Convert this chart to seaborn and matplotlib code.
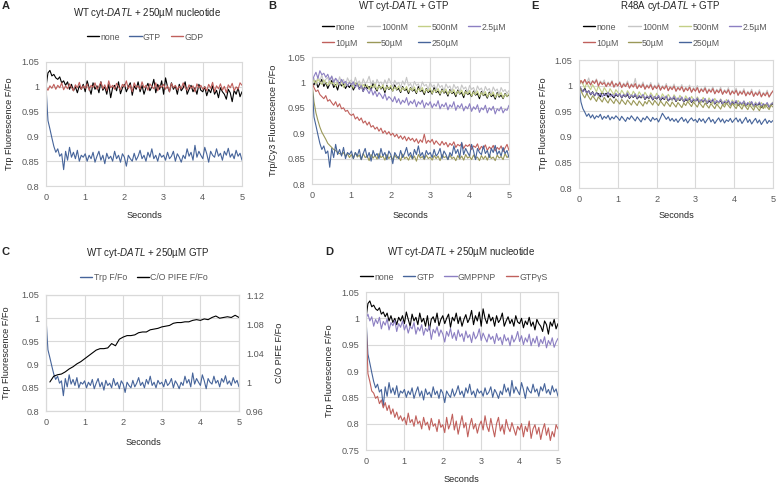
import numpy as np
import pandas as pd
import matplotlib
matplotlib.use("Agg")
import matplotlib.pyplot as plt
from matplotlib.lines import Line2D
import seaborn as sns

# sample times in seconds (one reading every 0.05 s)
seconds = np.round(np.arange(101) * 0.05, 2)

# traces, in thousandths of F/Fo
wt_none = [1000, 1028, 1033, 1022, 1025, 1018, 1015, 1020, 1008, 1012, 1003, 1010, 995, 1005, 992, 1000, 988, 1002, 995, 1005,
           990, 1012, 998, 985, 1008, 995, 1002, 988, 1010, 993, 1000, 985, 1005, 978, 998, 1003, 992, 1010, 986, 998,
           1005, 990, 1000, 1008, 983, 1002, 995, 1010, 990, 1003, 985, 998, 1007, 992, 1000, 1015, 988, 1005, 995, 1012,
           985, 1018, 1000, 990, 1008, 995, 1002, 985, 1005, 992, 998, 1010, 985, 995, 1003, 990, 998, 985, 1005, 993,
           990, 1000, 982, 995, 988, 1002, 985, 993, 978, 998, 990, 985, 975, 995, 988, 970, 993, 985, 998, 980,
           990]
wt_gtp = [1000, 932, 915, 897, 880, 868, 875, 860, 865, 833, 870, 852, 878, 858, 868, 855, 872, 850, 862, 858,
          865, 850, 862, 855, 868, 848, 860, 870, 852, 862, 845, 866, 855, 860, 850, 870, 855, 862, 848, 865,
          858, 840, 862, 855, 850, 866, 852, 860, 872, 855, 862, 850, 868, 858, 875, 855, 862, 850, 866, 858,
          862, 852, 868, 855, 860, 870, 850, 865, 858, 848, 862, 855, 875, 860, 868, 852, 882, 858, 870, 862,
          855, 878, 865, 848, 870, 862, 858, 875, 860, 866, 852, 870, 862, 876, 858, 865, 855, 872, 860, 866,
          852]
wt_gdp = [1000, 993, 1002, 997, 1005, 995, 1003, 998, 1008, 994, 1002, 996, 1006, 999, 992, 1004, 998, 1009, 995, 1002,
          997, 1006, 993, 1003, 999, 1008, 995, 1001, 1010, 996, 1004, 992, 1012, 998, 1003, 995, 1007, 1000, 994, 1005,
          1000, 1012, 996, 1004, 990, 1008, 999, 1002, 995, 1010, 998, 1003, 993, 1006, 1000, 996, 1008, 992, 1003, 999,
          1005, 995, 1002, 990, 1007, 998, 1003, 994, 1001, 996, 1008, 999, 993, 1004, 997, 1002, 990, 1006, 998, 1003,
          995, 1000, 992, 1005, 997, 1009, 990, 1002, 996, 1006, 993, 1001, 988, 1004, 998, 1007, 992, 1000, 995, 1008,
          1003]

# panel B: Trp/Cy3, GTP titration
b_none = [1000, 995, 1003, 990, 998, 1006, 992, 1000, 988, 997, 1004, 990, 996, 985, 1000, 993, 998, 988, 995, 990,
          997, 985, 993, 999, 987, 994, 982, 996, 988, 992, 985, 998, 990, 983, 995, 987, 991, 980, 994, 986,
          990, 983, 995, 985, 988, 980, 992, 984, 987, 978, 990, 983, 986, 978, 992, 982, 985, 976, 988, 980,
          984, 977, 990, 980, 983, 975, 987, 979, 982, 973, 986, 978, 981, 972, 985, 977, 980, 970, 984, 976,
          979, 972, 983, 975, 978, 968, 982, 974, 977, 969, 981, 972, 976, 967, 980, 971, 975, 968, 978, 972,
          976]
b_100nm = [1000, 1008, 995, 1012, 1003, 1015, 998, 1006, 1010, 996, 1013, 1002, 1008, 995, 1011, 1000, 1006, 993, 1009, 1001,
           1005, 994, 1010, 998, 1003, 992, 1007, 997, 1002, 1012, 996, 1004, 990, 1006, 998, 1001, 993, 1005, 996, 1008,
           999, 992, 1004, 996, 1000, 990, 1003, 995, 1010, 993, 998, 988, 1002, 994, 997, 987, 1001, 993, 996, 986,
           1000, 991, 995, 985, 998, 990, 994, 983, 997, 989, 993, 982, 996, 988, 992, 981, 995, 987, 991, 980,
           994, 986, 990, 979, 993, 985, 989, 978, 992, 984, 988, 977, 991, 983, 987, 976, 990, 982, 986, 978,
           984]
b_500nm = [1000, 1004, 998, 1006, 1001, 996, 1005, 999, 994, 1003, 997, 1001, 992, 1000, 995, 1003, 990, 998, 994, 1001,
           996, 989, 999, 993, 997, 988, 996, 991, 995, 986, 994, 990, 997, 985, 993, 988, 995, 984, 992, 987,
           994, 983, 991, 986, 993, 982, 990, 985, 992, 981, 989, 984, 991, 980, 988, 983, 990, 979, 987, 982,
           989, 978, 986, 981, 988, 977, 985, 980, 987, 976, 984, 979, 986, 975, 983, 978, 985, 974, 982, 977,
           984, 973, 981, 976, 983, 972, 980, 975, 982, 971, 979, 974, 981, 970, 978, 973, 980, 969, 977, 972,
           978]
b_2_5um = [1000, 1012, 1020, 1008, 1023, 1015, 1018, 1010, 1016, 1005, 1012, 1000, 1008, 1003, 996, 1006, 998, 1002, 993, 1000,
           995, 1001, 990, 997, 986, 994, 982, 990, 985, 978, 988, 975, 983, 972, 980, 975, 968, 978, 965, 972,
           968, 962, 972, 960, 968, 957, 965, 960, 970, 955, 963, 958, 966, 952, 962, 957, 965, 950, 960, 955,
           962, 950, 958, 953, 964, 948, 957, 952, 960, 946, 956, 951, 962, 945, 955, 950, 958, 944, 953, 948,
           958, 943, 952, 947, 956, 941, 950, 946, 955, 940, 950, 945, 953, 938, 948, 944, 952, 940, 947, 945,
           955]
b_10um = [1000, 990, 982, 985, 976, 972, 968, 974, 963, 966, 960, 955, 962, 952, 958, 948, 950, 943, 945, 938,
          935, 938, 928, 932, 925, 930, 920, 924, 916, 922, 912, 915, 908, 912, 904, 910, 900, 905, 898, 903,
          896, 900, 893, 898, 890, 895, 888, 894, 885, 892, 886, 890, 883, 889, 880, 887, 882, 898, 880, 886,
          882, 888, 878, 885, 880, 876, 884, 877, 882, 873, 880, 876, 883, 872, 878, 875, 880, 870, 877, 874,
          878, 868, 875, 872, 879, 867, 874, 870, 877, 866, 873, 869, 876, 865, 872, 868, 875, 864, 871, 878,
          866]
b_50um = [1000, 962, 940, 925, 912, 902, 895, 888, 880, 876, 872, 868, 866, 862, 860, 858, 862, 855, 860, 852,
          858, 850, 862, 853, 857, 848, 860, 852, 855, 846, 858, 851, 856, 849, 860, 852, 855, 847, 858, 850,
          855, 848, 857, 851, 854, 846, 859, 850, 853, 847, 856, 849, 855, 845, 858, 851, 854, 848, 857, 850,
          853, 847, 856, 850, 855, 846, 858, 852, 854, 848, 857, 850, 853, 846, 856, 849, 855, 847, 858, 851,
          854, 848, 857, 850, 853, 846, 856, 849, 855, 847, 858, 850, 853, 846, 857, 851, 854, 848, 860, 852,
          856]

# panel E: R48A mutant, GTP titration
e_none = [1000, 993, 988, 995, 985, 990, 982, 988, 980, 986, 984, 978, 987, 981, 985, 977, 984, 980, 976, 983,
          979, 984, 976, 982, 978, 983, 975, 980, 977, 982, 974, 979, 976, 981, 973, 978, 975, 980, 972, 977,
          974, 979, 971, 976, 973, 978, 970, 975, 972, 977, 969, 974, 971, 976, 968, 973, 970, 975, 967, 972,
          969, 974, 966, 971, 968, 973, 965, 970, 967, 972, 964, 969, 966, 971, 963, 968, 965, 970, 962, 967,
          964, 969, 961, 966, 963, 968, 960, 965, 962, 967, 959, 964, 961, 966, 957, 963, 960, 965, 958, 962,
          965]
e_100nm = [1000, 1008, 1003, 1012, 1005, 1015, 1002, 1010, 1006, 1013, 1000, 1009, 1004, 1011, 998, 1007, 1002, 1010, 997, 1005,
           1001, 1008, 996, 1005, 1000, 1009, 995, 1004, 999, 1014, 994, 1003, 998, 1007, 993, 1002, 997, 1006, 992, 1001,
           996, 1005, 991, 1000, 995, 1004, 990, 999, 994, 1003, 989, 998, 993, 1002, 988, 997, 992, 1001, 987, 996,
           991, 1000, 986, 995, 990, 999, 985, 994, 989, 998, 984, 993, 988, 997, 983, 992, 987, 996, 982, 991,
           986, 995, 981, 990, 985, 994, 980, 989, 984, 993, 979, 988, 983, 992, 978, 987, 982, 991, 977, 986,
           988]
e_500nm = [1000, 1010, 1003, 995, 1006, 998, 992, 1002, 995, 988, 999, 992, 985, 996, 990, 984, 994, 988, 982, 992,
           987, 981, 991, 985, 980, 990, 984, 979, 989, 983, 978, 988, 982, 977, 987, 981, 976, 986, 980, 975,
           985, 979, 974, 984, 978, 973, 983, 977, 972, 982, 976, 971, 981, 975, 970, 980, 974, 969, 979, 973,
           968, 978, 972, 967, 977, 971, 966, 976, 970, 965, 975, 969, 964, 974, 968, 963, 973, 967, 962, 972,
           966, 961, 971, 965, 960, 970, 964, 959, 969, 963, 958, 968, 962, 957, 967, 961, 956, 966, 960, 964,
           968]
e_2_5um = [1000, 995, 988, 992, 985, 990, 983, 987, 981, 986, 980, 985, 978, 984, 980, 987, 979, 983, 978, 985,
           980, 984, 977, 983, 979, 986, 976, 982, 978, 984, 975, 981, 977, 983, 974, 980, 976, 982, 973, 979,
           975, 981, 972, 978, 974, 980, 971, 977, 973, 979, 970, 976, 972, 978, 969, 975, 971, 977, 968, 974,
           970, 976, 967, 973, 969, 975, 966, 972, 968, 974, 965, 971, 967, 973, 964, 970, 966, 972, 963, 969,
           965, 971, 962, 968, 964, 970, 961, 967, 963, 969, 960, 966, 962, 968, 959, 965, 961, 967, 958, 964,
           967]
e_10um = [1000, 1010, 1005, 1012, 1003, 1008, 1001, 1009, 1004, 1011, 999, 1007, 1002, 1006, 998, 1005, 1000, 1008, 997, 1004,
          999, 1006, 996, 1003, 998, 1005, 995, 1002, 997, 1004, 994, 1001, 996, 1003, 993, 1000, 995, 1002, 992, 999,
          994, 1001, 991, 998, 993, 1000, 990, 997, 992, 999, 989, 996, 991, 998, 988, 995, 990, 997, 987, 994,
          989, 996, 986, 993, 988, 995, 985, 992, 987, 994, 984, 991, 986, 993, 983, 990, 985, 992, 982, 989,
          984, 991, 981, 988, 983, 990, 980, 987, 982, 989, 979, 986, 981, 988, 978, 985, 980, 987, 978, 984,
          990]
e_50um = [1000, 990, 982, 976, 985, 978, 972, 980, 975, 969, 978, 973, 968, 977, 971, 966, 975, 970, 965, 974,
          969, 964, 973, 968, 963, 972, 967, 962, 971, 966, 961, 970, 965, 960, 969, 964, 972, 967, 962, 971,
          966, 961, 970, 965, 960, 969, 964, 959, 968, 963, 958, 967, 962, 957, 966, 961, 969, 964, 959, 968,
          963, 958, 967, 962, 957, 966, 961, 956, 965, 960, 955, 964, 959, 954, 963, 958, 966, 961, 956, 965,
          960, 955, 964, 959, 954, 963, 958, 953, 962, 957, 952, 961, 956, 951, 960, 955, 963, 958, 953, 962,
          958]
e_250um = [1000, 968, 955, 948, 940, 945, 937, 943, 935, 941, 938, 944, 934, 940, 936, 942, 933, 939, 935, 941,
           937, 932, 940, 935, 930, 938, 934, 941, 936, 931, 939, 934, 929, 937, 933, 940, 935, 930, 938, 933,
           936, 929, 937, 946, 940, 934, 939, 931, 936, 930, 935, 928, 934, 938, 930, 935, 927, 933, 937, 931,
           934, 928, 936, 930, 935, 927, 933, 938, 929, 934, 926, 932, 937, 929, 935, 927, 933, 930, 936, 928,
           933, 937, 929, 935, 926, 932, 938, 928, 934, 925, 931, 936, 927, 933, 924, 930, 935, 926, 932, 928,
           932]

# panel D: non-hydrolysable analogues
d_gmppnp = [1000, 1008, 995, 1003, 985, 998, 990, 1002, 980, 994, 987, 999, 978, 992, 986, 996, 975, 990, 983, 995,
            978, 988, 972, 985, 980, 992, 970, 983, 976, 988, 968, 981, 975, 986, 960, 979, 972, 984, 966, 978,
            970, 955, 975, 966, 981, 962, 973, 958, 978, 965, 971, 956, 976, 963, 969, 954, 974, 961, 967, 980,
            958, 972, 963, 955, 970, 960, 966, 952, 971, 958, 964, 950, 969, 957, 963, 948, 968, 955, 962, 975,
            956, 967, 950, 963, 955, 970, 948, 962, 953, 966, 946, 960, 952, 965, 944, 958, 950, 963, 945, 955,
            962]
d_gtpgs = [1000, 895, 880, 862, 858, 848, 852, 838, 845, 830, 840, 825, 835, 818, 828, 812, 822, 808, 815, 805,
           812, 798, 820, 802, 808, 795, 815, 800, 805, 790, 812, 797, 803, 788, 810, 795, 800, 785, 808, 793,
           798, 783, 812, 790, 800, 818, 788, 805, 780, 798, 815, 792, 802, 775, 796, 810, 790, 800, 782, 797,
           805, 788, 815, 795, 785, 810, 792, 775, 800, 812, 786, 798, 780, 808, 793, 785, 802, 790, 778, 795,
           788, 800, 775, 795, 785, 805, 772, 790, 798, 780, 793, 770, 788, 800, 778, 792, 768, 785, 775, 798,
           790]

# panel C: C/O PIFE signal (right axis), sampled every 0.1 s
pife_seconds = [0.1, 0.2, 0.3, 0.4, 0.5, 0.6, 0.7, 0.8, 0.9, 1.0, 1.1, 1.2, 1.3, 1.4, 1.5, 1.6, 1.7, 1.8, 1.9, 2.0,
                2.1, 2.2, 2.3, 2.4, 2.5, 2.6, 2.7, 2.8, 2.9, 3.0, 3.1, 3.2, 3.3, 3.4, 3.5, 3.6, 3.7, 3.8, 3.9, 4.0,
                4.1, 4.2, 4.3, 4.4, 4.5, 4.6, 4.7, 4.8, 4.9, 5.0]
pife = [1000, 1008, 1010, 1011, 1014, 1018, 1021, 1025, 1028, 1032, 1036, 1040, 1044, 1046, 1046, 1047, 1053, 1050, 1059, 1062,
        1064, 1064, 1065, 1068, 1069, 1069, 1072, 1073, 1074, 1076, 1077, 1078, 1081, 1082, 1082, 1083, 1083, 1085, 1086, 1085,
        1087, 1086, 1089, 1091, 1088, 1089, 1090, 1089, 1092, 1089]

for arr in [wt_none, wt_gtp, wt_gdp, b_none, b_100nm, b_500nm, b_2_5um, b_10um, b_50um,
            e_none, e_100nm, e_500nm, e_2_5um, e_10um, e_50um, e_250um, d_gmppnp, d_gtpgs]:
    assert len(arr) == len(seconds), len(arr)

titration_labels = ["none", "100nM", "500nM", "2.5µM", "10µM", "50µM", "250µM"]
titration_colors = ["#000000", "#c6c6c6", "#c3cf86", "#8c7fc2", "#c0605c", "#9a9858", "#46649a"]

GRID = "#d9d9d9"
TXT = "#595959"
W, H = 776, 486

sns.set_theme(style="whitegrid")
plt.rcParams["font.family"] = ["Liberation Sans", "DejaVu Sans"]
plt.rcParams["mathtext.fontset"] = "custom"
plt.rcParams["mathtext.rm"] = "Liberation Sans"
plt.rcParams["mathtext.it"] = "Liberation Sans:italic"

fig = plt.figure(figsize=(W / 100, H / 100), dpi=100)
fig.patch.set_facecolor("white")


def box(x0, y0, x1, y1):
    return [x0 / W, 1 - y1 / H, (x1 - x0) / W, (y1 - y0) / H]


def ftext(x, y, s, **kw):
    kw.setdefault("ha", "center")
    kw.setdefault("va", "center")
    fig.text(x / W, 1 - y / H, s, **kw)


def panel(rect, names, traces, colors, yticks, times=None):
    ax = fig.add_axes(box(*rect))
    frames = []
    for name, vals in zip(names, traces):
        frames.append(pd.DataFrame({"Seconds": seconds if times is None else times,
                                    "F": np.array(vals) / 1000, "trace": name}))
    df = pd.concat(frames, ignore_index=True)
    sns.lineplot(data=df, x="Seconds", y="F", hue="trace", hue_order=names,
                 palette=dict(zip(names, colors)), estimator=None, sort=False,
                 linewidth=0.8, legend=False, ax=ax)
    ax.set_xlim(0, 5)
    ax.set_ylim(yticks[0], yticks[-1])
    ax.set_xticks(range(6))
    ax.set_yticks(yticks)
    ax.set_yticklabels([f"{v:g}" for v in yticks])
    ax.set_xlabel("")
    ax.set_ylabel("")
    ax.grid(True, color=GRID, linewidth=0.8)
    ax.tick_params(length=0, labelsize=6.6, labelcolor=TXT, pad=5)
    for s in ax.spines.values():
        s.set_color(GRID)
        s.set_linewidth(0.8)
    return ax


def legend(ax, names, colors, cx, cy, ncol, order=None):
    handles = [Line2D([], [], color=c, lw=1.0) for c in colors]
    labels = list(names)
    if order is not None:
        handles = [handles[i] for i in order]
        labels = [labels[i] for i in order]
    ax.legend(handles, labels, loc="center", bbox_to_anchor=(cx / W, 1 - cy / H),
              bbox_transform=fig.transFigure, ncol=ncol, frameon=False, fontsize=6.3,
              labelcolor=TXT, handlelength=1.4, handletextpad=0.15, columnspacing=1.1,
              labelspacing=0.8, borderpad=0)


y_main = [0.8, 0.85, 0.9, 0.95, 1.0, 1.05]
title_kw = dict(fontsize=7, color="#262626")
label_kw = dict(fontsize=6.6, color="#262626")
letter_kw = dict(fontsize=8, fontweight="bold", ha="left", va="top")
two_row = [0, 4, 1, 5, 2, 6, 3]

# A
a_names = ["none", "GTP", "GDP"]
a_colors = ["#000000", "#46649a", "#c0605c"]
ax_a = panel((46, 62, 242, 186), a_names, [wt_none, wt_gtp, wt_gdp], a_colors, y_main)
legend(ax_a, a_names, a_colors, 145, 37, 3)
ftext(147, 13, r"WT cyt-$\mathit{DATL}$ + 250µM nucleotide", **title_kw)
ftext(10, 124, "Trp Fluorescence F/Fo", rotation=90, **label_kw)
ftext(144, 215, "Seconds", **label_kw)
ftext(2, 1, "A", **letter_kw)

# B
b_traces = [b_none, b_100nm, b_500nm, b_2_5um, b_10um, b_50um, wt_gtp]
ax_b = panel((312, 57, 509, 184), titration_labels, b_traces, titration_colors, y_main)
legend(ax_b, titration_labels, titration_colors, 414, 35, 4, order=two_row)
ftext(404, 6, r"WT cyt-$\mathit{DATL}$ + GTP", **title_kw)
ftext(274, 120, "Trp/Cy3 Fluorescence F/Fo", rotation=90, **label_kw)
ftext(410, 215, "Seconds", **label_kw)
ftext(268, 1, "B", **letter_kw)

# E
e_traces = [e_none, e_100nm, e_500nm, e_2_5um, e_10um, e_50um, e_250um]
ax_e = panel((579, 60, 773, 188), titration_labels, e_traces, titration_colors, y_main)
legend(ax_e, titration_labels, titration_colors, 675, 35, 4, order=two_row)
ftext(670, 6, r"R48A cyt-$\mathit{DATL}$ + GTP", **title_kw)
ftext(543, 124, "Trp Fluorescence F/Fo", rotation=90, **label_kw)
ftext(676, 215, "Seconds", **label_kw)
ftext(531, 1, "E", **letter_kw)

# C
ax_c = panel((46, 295, 239, 411), ["Trp F/Fo"], [wt_gtp], ["#46649a"], y_main)
ax_c2 = ax_c.twinx()
pife_df = pd.DataFrame({"Seconds": pife_seconds, "F": np.array(pife) / 1000})
sns.lineplot(data=pife_df, x="Seconds", y="F", color="#000000", linewidth=0.8,
             estimator=None, sort=False, ax=ax_c2)
y_right = [0.96, 1.0, 1.04, 1.08, 1.12]
ax_c2.set_ylim(0.96, 1.12)
ax_c2.set_yticks(y_right)
ax_c2.set_yticklabels([f"{v:g}" for v in y_right])
ax_c2.set_ylabel("")
ax_c2.grid(False)
ax_c2.tick_params(length=0, labelsize=6.6, labelcolor=TXT, pad=5)
for s in ax_c2.spines.values():
    s.set_color(GRID)
    s.set_linewidth(0.8)
legend(ax_c2, ["Trp F/Fo", "C/O PIFE F/Fo"], ["#46649a", "#000000"], 144, 278, 2)
ftext(148, 253, r"WT cyt-$\mathit{DATL}$ + 250µM GTP", **title_kw)
ftext(7, 353, "Trp Fluorescence F/Fo", rotation=90, **label_kw)
ftext(279, 353, "C/O PIFE F/Fo", rotation=90, **label_kw)
ftext(143, 442, "Seconds", **label_kw)
ftext(2, 247, "C", **letter_kw)

# D
d_names = ["none", "GTP", "GMPPNP", "GTPγS"]
d_colors = ["#000000", "#46649a", "#8c7fc2", "#c0605c"]
y_d = [0.75, 0.8, 0.85, 0.9, 0.95, 1.0, 1.05]
ax_d = panel((366, 292, 558, 450), d_names, [wt_none, wt_gtp, d_gmppnp, d_gtpgs], d_colors, y_d)
legend(ax_d, d_names, d_colors, 454, 277, 4)
ftext(461, 252, r"WT cyt-$\mathit{DATL}$ + 250µM nucleotide", **title_kw)
ftext(329, 371, "Trp Fluorescence F/Fo", rotation=90, **label_kw)
ftext(461, 479, "Seconds", **label_kw)
ftext(325, 247, "D", **letter_kw)

fig.savefig("out.png", dpi=100, facecolor="white")
